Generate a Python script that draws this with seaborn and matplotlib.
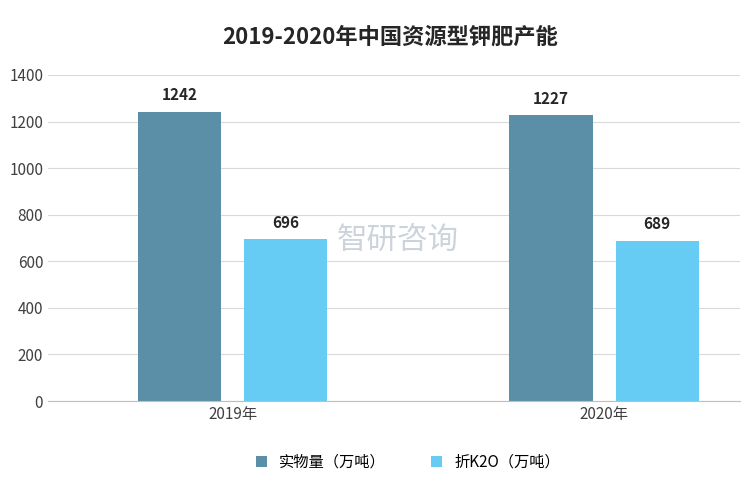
import matplotlib
matplotlib.use("Agg")
import matplotlib.pyplot as plt
from matplotlib import font_manager as fm
import seaborn as sns
import pandas as pd

years = ["2019年", "2020年"]
series = ["实物量（万吨）", "折K2O（万吨）"]
actual = [1242, 1227]
k2o = [696, 689]
colors = ["#5b8fa8", "#66ccf4"]

df = pd.DataFrame({
    "year": years * 2,
    "series": [series[0]] * 2 + [series[1]] * 2,
    "value": actual + k2o,
})

cjk = None
for f in fm.findSystemFonts():
    if "CJK" in f or "cjk" in f.lower():
        try:
            fm.fontManager.addfont(f)
        except Exception:
            pass
names = {f.name for f in fm.fontManager.ttflist}
for n in ["Noto Sans CJK SC", "Noto Sans CJK JP", "Noto Sans CJK TC", "Noto Sans CJK KR"]:
    if n in names:
        cjk = n
        break
fams = ([cjk] if cjk else []) + ["DejaVu Sans"]
plt.rcParams["font.family"] = "sans-serif"
plt.rcParams["font.sans-serif"] = fams

fig = plt.figure(figsize=(7.5, 5), dpi=100)
ax = fig.add_axes([0.064, 0.198, 0.923, 0.652])
sns.barplot(data=df, x="year", y="value", hue="series", palette=colors,
            width=0.572, gap=0.217, saturation=1, ax=ax, legend=True)
ax.set_xlim(-0.498, 1.367)
ax.set_ylim(0, 1400)
ax.set_yticks(range(0, 1401, 200))
ax.grid(axis="y", color="#d9d9d9", linewidth=0.8)
ax.set_axisbelow(True)
for s in ["top", "right", "left"]:
    ax.spines[s].set_visible(False)
ax.spines["bottom"].set_color("#bfbfbf")
ax.tick_params(axis="both", length=0, labelsize=11, colors="#404040")
ax.set_xlabel("")
ax.set_ylabel("")
for c in ax.containers:
    ax.bar_label(c, fmt="%d", padding=6, fontsize=11, fontweight="bold", color="#262626")
ax.legend(loc="upper center", bbox_to_anchor=(0.52, -0.12), ncol=2, frameon=False,
          fontsize=11, handlelength=0.7, handleheight=0.7, columnspacing=3)
fig.text(0.52, 0.925, "2019-2020年中国资源型钾肥产能", ha="center", va="center",
         fontsize=16, fontweight="bold", color="#262626")
fig.text(0.53, 0.52, "智研咨询", ha="center", va="center", fontsize=22, color="#9aa8b8", alpha=0.5)
fig.savefig("out.png", dpi=100)
